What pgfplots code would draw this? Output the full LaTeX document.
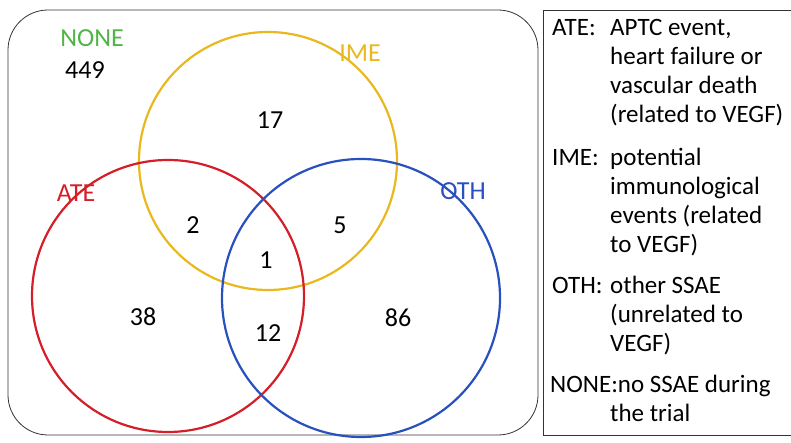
\documentclass[border=0pt]{standalone}
\usepackage{pgfplots}
\pgfplotsset{compat=1.18}
\usepackage{fontspec}
\setmainfont{Carlito}
\definecolor{cg}{RGB}{80,180,70}
\definecolor{cy}{RGB}{232,184,30}
\definecolor{cr}{RGB}{212,30,40}
\definecolor{cb}{RGB}{40,80,190}
\begin{document}
\begin{tikzpicture}
\useasboundingbox (0,0) rectangle (791pt,443pt);
\clip (0,0) rectangle (791pt,443pt);
\begin{axis}[at={(0,0)},anchor=origin,scale only axis,width=791pt,height=443pt,
 xmin=0,xmax=791,ymin=0,ymax=443,hide axis,clip=false,
 nodes={font=\fontsize{26}{30}\selectfont}]
\addplot[draw=none] coordinates {(0,0)};
\draw[black!80,thick,rounded corners=40pt] (axis cs:8,8) rectangle (axis cs:538,433);
\draw[black!80,thick] (axis cs:543,8) rectangle (axis cs:800,433);
\draw[cy,line width=2.2pt] (axis cs:268,282) circle[radius=129];
\draw[cr,line width=2.2pt] (axis cs:168,147) circle[radius=136];
\draw[cb,line width=2.2pt] (axis cs:361,145) circle[radius=139];
\node[text=cg] at (axis cs:92,405) {NONE};
\node at (axis cs:85,373) {449};
\node[text=cy] at (axis cs:360,390) {IME};
\node[text=cr] at (axis cs:76,250) {ATE};
\node[text=cb] at (axis cs:463,252) {OTH};
\node at (axis cs:270,323) {17};
\node at (axis cs:193,218) {2};
\node at (axis cs:340,218) {5};
\node at (axis cs:266,183) {1};
\node at (axis cs:143,126) {38};
\node at (axis cs:268,110) {12};
\node at (axis cs:398,125) {86};
\begin{scope}[every node/.style={anchor=base west,inner sep=0pt,font=\fontsize{25}{30}\selectfont}]
\node at (axis cs:552,407) {ATE:};
\node at (axis cs:610,407) {APTC event,};
\node at (axis cs:610,378) {heart failure or};
\node at (axis cs:610,349) {vascular death};
\node at (axis cs:610,320) {(related to VEGF)};
\node at (axis cs:552,277) {IME:};
\node at (axis cs:610,277) {potential};
\node at (axis cs:610,248) {immunological};
\node at (axis cs:610,219) {events (related};
\node at (axis cs:610,190) {to VEGF)};
\node at (axis cs:552,149) {OTH:};
\node at (axis cs:610,149) {other SSAE};
\node at (axis cs:610,120) {(unrelated to};
\node at (axis cs:610,91) {VEGF)};
\node at (axis cs:550,50) {NONE:no SSAE during};
\node at (axis cs:610,21) {the trial};
\end{scope}
\end{axis}
\end{tikzpicture}
\end{document}
